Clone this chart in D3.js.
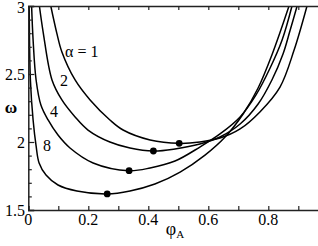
<!DOCTYPE html>
<html>
<head>
<meta charset="utf-8">
<script src="https://d3js.org/d3.v7.js"></script>
<style>
  body { margin: 0; background: #fff; }
  svg text { font-family: "Liberation Serif", "DejaVu Serif", serif !important; }
</style>
</head>
<body>
<div id="chart"></div>
<script>
// curves: phi_A and omega for each alpha
var alphas = [1, 2, 4, 8];

var phi1 = [0.075, 0.095, 0.112, 0.156, 0.206, 0.272, 0.316, 0.406, 0.503, 0.572, 0.639, 0.706, 0.772, 0.839, 0.886, 0.929];
var omega1 = [3.0, 2.801, 2.662, 2.456, 2.309, 2.162, 2.088, 2.015, 1.990, 2.000, 2.029, 2.096, 2.221, 2.404, 2.676, 3.0];

var phi2 = [0.037, 0.050, 0.079, 0.112, 0.156, 0.199, 0.272, 0.339, 0.417, 0.489, 0.572, 0.639, 0.706, 0.766, 0.812, 0.849, 0.872, 0.896];
var omega2 = [3.0, 2.801, 2.456, 2.309, 2.184, 2.088, 2.000, 1.956, 1.934, 1.949, 1.985, 2.037, 2.132, 2.279, 2.456, 2.647, 2.816, 3.0];

var phi4 = [0.011, 0.016, 0.026, 0.042, 0.066, 0.099, 0.139, 0.216, 0.336, 0.406, 0.489, 0.572, 0.639, 0.706, 0.759, 0.806, 0.846, 0.879];
var omega4 = [3.0, 2.750, 2.456, 2.272, 2.162, 2.051, 1.956, 1.846, 1.789, 1.809, 1.860, 1.963, 2.059, 2.184, 2.346, 2.544, 2.750, 3.0];

var phi8 = [0.003, 0.007, 0.016, 0.026, 0.036, 0.059, 0.099, 0.162, 0.263, 0.339, 0.422, 0.506, 0.589, 0.656, 0.716, 0.766, 0.812, 0.869];
var omega8 = [3.0, 2.456, 2.162, 1.971, 1.846, 1.757, 1.684, 1.640, 1.618, 1.640, 1.691, 1.779, 1.904, 2.037, 2.206, 2.397, 2.640, 3.0];

// minima marked with dots
var minPhi = [0.503, 0.417, 0.336, 0.263];
var minOmega = [1.990, 1.934, 1.789, 1.618];

var xTicks = [0, 0.2, 0.4, 0.6, 0.8];
var yTicks = [1.5, 2, 2.5, 3];
var curveLabels = ["α = 1", "2", "4", "8"];

var width = 318, height = 246;

var svg = d3.select("#chart")
  .append("svg")
    .attr("width", width)
    .attr("height", height);

var x = d3.scaleLinear().domain([0, 1]).range([28.3, 328.3]);
var y = d3.scaleLinear().domain([1.5, 3]).range([210, 6]);

svg.append("clipPath").attr("id", "plotclip")
  .append("rect")
    .attr("x", x(0)).attr("y", y(3))
    .attr("width", width - x(0)).attr("height", y(1.5) - y(3));

// curves
var series = [
  d3.zip(phi1, omega1),
  d3.zip(phi2, omega2),
  d3.zip(phi4, omega4),
  d3.zip(phi8, omega8)
];

var line = d3.line()
  .x(function(d) { return x(d[0]); })
  .y(function(d) { return y(d[1]); })
  .curve(d3.curveCatmullRom.alpha(0.5));

svg.append("g").attr("clip-path", "url(#plotclip)")
  .selectAll("path")
  .data(series)
  .enter().append("path")
    .attr("d", line)
    .attr("fill", "none")
    .attr("stroke", "#000")
    .attr("stroke-width", 1.5);

svg.selectAll("circle")
  .data(d3.zip(minPhi, minOmega))
  .enter().append("circle")
    .attr("cx", function(d) { return x(d[0]); })
    .attr("cy", function(d) { return y(d[1]); })
    .attr("r", 3.4)
    .attr("fill", "#000");

// axes, ticks pointing inward
var minorX = d3.range(0, 1.01, 0.1);
var axBottom = svg.append("g").attr("transform", "translate(0," + y(1.5) + ")")
  .call(d3.axisBottom(x).tickValues(minorX).tickSize(-4).tickFormat(""));
var axTop = svg.append("g").attr("transform", "translate(0," + y(3) + ")")
  .call(d3.axisTop(x).tickValues(minorX).tickSize(-4).tickFormat(""));

var minorY = d3.range(1.5, 3.01, 0.1).filter(function(v) {
  return yTicks.every(function(t) { return Math.abs(t - v) > 1e-6; });
});
var axLeft = svg.append("g").attr("transform", "translate(" + x(0) + ",0)")
  .call(d3.axisLeft(y).tickValues(yTicks).tickSize(-6).tickFormat(""));
var axLeftMinor = svg.append("g").attr("transform", "translate(" + x(0) + ",0)")
  .call(d3.axisLeft(y).tickValues(minorY).tickSize(-3.5).tickFormat(""));
axLeftMinor.select(".domain").remove();

[axBottom, axTop, axLeft, axLeftMinor].forEach(function(g) {
  g.selectAll("path").attr("stroke", "#222").attr("stroke-width", 1.5);
  g.selectAll("line").attr("stroke", "#222").attr("stroke-width", 1.2);
});

// tick labels
svg.selectAll(".xl")
  .data(xTicks)
  .enter().append("text")
    .attr("class", "xl")
    .attr("x", function(d) { return x(d); })
    .attr("y", 225)
    .attr("text-anchor", "middle")
    .attr("font-size", 16)
    .text(function(d) { return d3.format("")(d); });

svg.selectAll(".yl")
  .data(yTicks)
  .enter().append("text")
    .attr("class", "yl")
    .attr("x", 25)
    .attr("y", function(d) { return Math.max(y(d) + 5.5, 13); })
    .attr("text-anchor", "end")
    .attr("font-size", 16)
    .text(function(d) { return d; });

// axis titles
svg.append("text")
  .attr("x", 11).attr("y", 113)
  .attr("text-anchor", "middle")
  .attr("font-size", 17)
  .attr("font-weight", "bold")
  .text("ω");

var xt = svg.append("text")
  .attr("x", 175).attr("y", 235)
  .attr("text-anchor", "middle")
  .attr("font-size", 18);
xt.append("tspan").text("φ");
xt.append("tspan").attr("font-size", 11).attr("dy", 3).text("A");

// curve labels
var labelX = [65, 60, 50, 43];
var labelY = [57, 86, 117, 151];
svg.selectAll(".cl")
  .data(curveLabels)
  .enter().append("text")
    .attr("class", "cl")
    .attr("x", function(d, i) { return labelX[i]; })
    .attr("y", function(d, i) { return labelY[i]; })
    .attr("font-size", 16)
    .text(function(d) { return d; });
</script>
</body>
</html>
